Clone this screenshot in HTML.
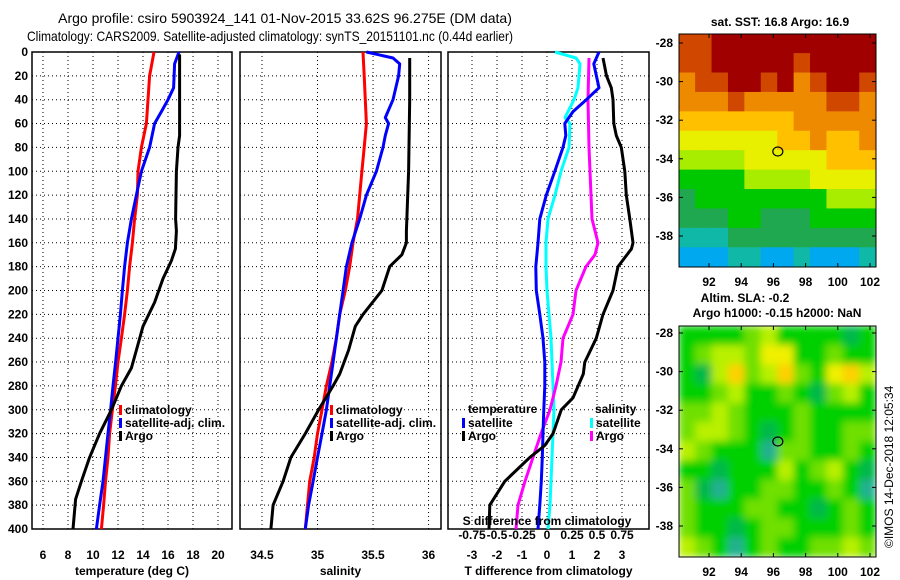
<!DOCTYPE html>
<html><head><meta charset="utf-8"><style>
body{margin:0;background:#fff}
svg{display:block;font-family:"Liberation Sans",sans-serif}
.t{font-size:12px;font-weight:bold;fill:#000}
.h{font-size:14px;fill:#000}
</style></head><body>
<svg id="c" width="900" height="580" viewBox="0 0 900 580">
<text class="h" x="285" y="23" text-anchor="middle">Argo profile: csiro 5903924_141 01-Nov-2015 33.62S 96.275E (DM data)</text>
<text class="h" x="27" y="41" textLength="486" lengthAdjust="spacingAndGlyphs">Climatology: CARS2009. Satellite-adjusted climatology: synTS_20151101.nc (0.44d earlier)</text>
<text class="t" x="780" y="26" text-anchor="middle">sat. SST: 16.8 Argo: 16.9</text>
<text class="t" x="745" y="302" text-anchor="middle">Altim. SLA: -0.2</text>
<text class="t" x="777" y="317" text-anchor="middle">Argo h1000: -0.15 h2000: NaN</text>
<text x="893" y="548" font-size="12" transform="rotate(-90 893 548)">©IMOS 14-Dec-2018 12:05:34</text>
</svg>
<script>
// depth levels
const depthTicks=[0,20,40,60,80,100,120,140,160,180,200,220,240,260,280,300,320,340,360,380,400];
// temperature
const tClimD=[0,20,40,60,80,100,120,140,160,180,200,220,240,260,280,300,320,340,360,380,400];
const tClim=[14.88,14.53,14.4,14.27,13.87,13.6,13.55,13.33,13.15,12.93,12.75,12.53,12.27,12.0,11.79,11.55,11.33,11.2,11.0,10.85,10.67];
const tSatD=[0,10,30,40,50,60,80,100,120,140,160,180,200,220,240,260,280,300,320,340,360,380,400];
const tSat=[16.88,16.53,16.45,16.0,15.47,14.93,14.53,13.87,13.47,13.07,12.75,12.53,12.35,12.19,12.0,11.81,11.6,11.41,11.2,11.0,10.8,10.53,10.27];
const tArgoD=[2,20,70,80,100,140,150,165,175,190,210,230,250,265,280,300,320,340,360,375,400];
const tArgo=[16.93,16.93,16.93,16.8,16.67,16.61,16.67,16.59,16.27,15.6,14.93,14.0,13.47,13.07,12.27,11.47,10.53,9.73,9.07,8.61,8.4];
const tTicks=[6,8,10,12,14,16,18,20];
// salinity
const sClimD=[0,20,40,60,80,100,120,140,160,180,200,220,240,260,280,300,320,340,360,380,400];
const sClim=[35.41,35.42,35.43,35.44,35.42,35.40,35.38,35.36,35.32,35.29,35.25,35.20,35.17,35.13,35.08,35.04,35.0,34.97,34.93,34.91,34.89];
const sSatD=[0,5,10,20,40,55,60,70,80,100,120,140,160,180,200,220,240,260,280,300,320,340,360,380,400];
const sSat=[35.44,35.68,35.74,35.73,35.68,35.61,35.64,35.61,35.59,35.53,35.44,35.38,35.31,35.26,35.23,35.2,35.17,35.14,35.11,35.08,35.04,35.0,34.96,34.92,34.89];
const sArgoD=[5,40,100,150,160,170,180,200,220,230,250,270,280,300,320,340,360,380,400];
const sArgo=[35.83,35.83,35.82,35.80,35.80,35.76,35.65,35.58,35.41,35.34,35.28,35.20,35.14,35.01,34.89,34.76,34.69,34.60,34.58];
const sTicks=[34.5,35,35.5,36];
// differences
const dTSatD=[0,10,30,40,50,60,70,80,100,120,140,160,180,200,220,240,260,280,300,320,340,360,380,400];
const dTSat=[2.08,1.87,2.08,1.57,1.04,0.71,0.75,0.64,0.31,-0.03,-0.29,-0.36,-0.45,-0.43,-0.29,-0.16,-0.09,-0.09,-0.13,-0.16,-0.19,-0.23,-0.29,-0.36];
const dSSatD=[0,5,10,30,40,55,60,80,100,120,140,160,180,200,220,240,260,280,300,320,340,360,380,400];
const dSSat=[0.08,0.29,0.33,0.31,0.27,0.18,0.23,0.22,0.14,0.08,0.01,-0.01,-0.01,0,0.02,0.04,0.05,0.06,0.07,0.06,0.05,0.04,0.03,0.01];
const dSArgoD=[5,40,80,120,140,160,170,180,200,220,240,260,280,300,320,340,360,380,400];
const dSArgo=[0.42,0.41,0.42,0.44,0.45,0.51,0.48,0.39,0.29,0.26,0.16,0.14,0.09,0.03,-0.06,-0.14,-0.22,-0.29,-0.31];
const dTArgoD=[5,20,30,40,60,70,80,100,120,140,160,165,180,200,220,240,260,270,290,300,320,330,340,360,380,400];
const dTArgo=[2.24,2.38,2.57,2.64,2.67,2.77,2.97,3.11,3.17,3.31,3.44,3.38,2.84,2.64,2.24,1.97,1.51,1.45,1.04,0.57,0.24,-0.09,-0.69,-1.69,-2.29,-2.32];
const dTTicks=[-3,-2,-1,0,1,2,3];
const dSTickLabels=["-0.75","-0.5","-0.25","0","0.25","0.5","0.75"];
const dSTicks=[-0.75,-0.5,-0.25,0,0.25,0.5,0.75];
// maps (colour level grids, rows north->south)
const sstGrid=[
[1,1,0,0,0,0,0,0,0,0,0,0],[1,1,0,0,0,0,0,1,0,0,0,0],[2,1,1,0,0,1,0,2,1,0,0,1],
[2,2,2,1,2,2,2,2,2,1,1,2],[3,3,3,3,3,3,3,2,2,2,2,2],[4,4,4,4,4,4,3,3,2,3,3,2],
[5,5,5,5,4,4,4,4,4,3,3,3],[6,6,6,6,5,5,5,5,4,4,4,4],[7,6,6,6,6,6,6,6,6,5,5,5],
[7,7,7,6,6,7,7,7,6,6,6,6],[8,8,8,7,7,7,7,7,7,7,7,7],[9,9,9,8,8,9,9,8,9,9,9,8]];
const slaGrid=[
[2,2,2,2,3,4,2,2,2,2,1,2],[2,3,4,4,3,5,5,2,2,3,2,2],[2,1,4,6,3,4,6,3,2,5,6,4],
[2,2,3,4,2,2,3,2,1,3,4,2],[3,3,4,3,2,2,2,3,2,2,2,2],[3,4,4,3,2,1,2,3,2,2,3,3],
[4,3,2,2,2,0,3,3,2,2,3,2],[2,2,1,2,2,2,4,2,3,4,2,1],[3,1,0,2,2,3,3,2,2,3,2,0],
[3,2,2,2,3,3,2,2,1,2,3,2],[3,2,2,1,2,3,3,2,2,2,3,2],[4,3,2,0,2,3,2,2,3,3,4,3]];
const lonTicks=[92,94,96,98,100,102];
const latTicks=[-28,-30,-32,-34,-36,-38];

const NS='http://www.w3.org/2000/svg', svg=document.getElementById('c');
function mk(tag,attrs,parent){const e=document.createElementNS(NS,tag);for(const k in attrs)e.setAttribute(k,attrs[k]);(parent||svg).appendChild(e);return e;}
const Y0=52,Y1=529;
const yS=d=>Y0+d*(Y1-Y0)/400;

function panel(name,x0,x1,dom,ticks,labels,xtitle,leftLabels){
  const xs=v=>x0+(v-dom[0])*(x1-x0)/(dom[1]-dom[0]);
  const g=mk('g',{});
  
  
  depthTicks.forEach(d=>{
    const l=mk('line',{x1:x0,x2:x1,y1:yS(d),y2:yS(d),stroke:'#000','stroke-width':1,'stroke-dasharray':'1,3'},g);
    
    
    if(leftLabels){const t=mk('text',{x:28,y:yS(d)+4,'text-anchor':'end',class:'t'},g);t.textContent=d;
      
      }
  });
  ticks.forEach((v,i)=>{
    const l=mk('line',{x1:xs(v),x2:xs(v),y1:Y0,y2:Y1,stroke:'#000','stroke-width':1,'stroke-dasharray':'1,3'},g);
    
    
    const t=mk('text',{x:xs(v),y:559,'text-anchor':'middle',class:'t'},g);t.textContent=labels[i];
    
    
  });
  const r=mk('rect',{x:x0,y:Y0,width:x1-x0,height:Y1-Y0,fill:'none',stroke:'#000','stroke-width':1.5},g);
  
  
  const tt=mk('text',{x:(x0+x1)/2,y:575,'text-anchor':'middle',class:'t'},g);tt.textContent=xtitle;
  
  
  return {g,xs};
}
function series(p,ds,vs,color,name,scale){
  const pts=ds.map((d,i)=>p.xs(vs[i]*(scale||1)).toFixed(1)+','+yS(d).toFixed(1)).join(' ');
  const l=mk('polyline',{points:pts,fill:'none',stroke:color,'stroke-width':3,'stroke-linejoin':'round'},p.g);
  
  
}
function legend(items,x,y0){
  items.forEach((it,i)=>{
    const y=y0+i*13;
    const r=mk('rect',{x:x,y:y-9,width:3,height:10,fill:it[1]});
    
    
    const t=mk('text',{x:x+6,y:y,class:'t'});t.textContent=it[0];
    
    
  });
}
const p1=panel('temperature',32,232,[5.12,21.12],tTicks,tTicks,'temperature (deg C)',true);
series(p1,tClimD,tClim,'#f00','temp-climatology-line');
series(p1,tSatD,tSat,'#00f','temp-satellite-line');
series(p1,tArgoD,tArgo,'#000','temp-argo-line');
legend([['climatology','#f00'],['satellite-adj. clim.','#00f'],['Argo','#000']],119,414);

const p2=panel('salinity',240,441,[34.302,36.112],sTicks,sTicks,'salinity',false);
series(p2,sClimD,sClim,'#f00','sal-climatology-line');
series(p2,sSatD,sSat,'#00f','sal-satellite-line');
series(p2,sArgoD,sArgo,'#000','sal-argo-line');
legend([['climatology','#f00'],['satellite-adj. clim.','#00f'],['Argo','#000']],330,414);

const p3=panel('difference',448,649,[-3.96,4.08],dTTicks,dTTicks,'T difference from climatology',false);
series(p3,dSSatD,dSSat,'#0ff','sdiff-satellite-line',4);
series(p3,dSArgoD,dSArgo,'#f0f','sdiff-argo-line',4);
series(p3,dTSatD,dTSat,'#00f','tdiff-satellite-line');
series(p3,dTArgoD,dTArgo,'#000','tdiff-argo-line');
{const t=mk('text',{x:468,y:413,class:'t'});t.textContent='temperature';


const s=mk('text',{x:595,y:413,class:'t'});s.textContent='salinity';

}
legend([['satellite','#00f'],['Argo','#000']],462,427);
legend([['satellite','#0ff'],['Argo','#f0f']],590,427);
{const t=mk('text',{x:547,y:525,'text-anchor':'middle',class:'t'});t.textContent='S difference from climatology';


dSTicks.forEach((v,i)=>{const l=mk('text',{x:p3.xs(v*4),y:539,'text-anchor':'middle',class:'t'});l.textContent=dSTickLabels[i];

});}

// maps
const sstCols=['#a00000','#d04800','#ee8a00','#ffc000','#e8f000','#a8ec00','#00c800','#20a850','#10b8a8','#00a8f0'];
const slaCols=['#20b090','#00b848','#00d000','#70e000','#b8f000','#f0f000','#ffd000'];
let fid=0;
function map(name,x0,x1,y0,y1,latTick0,grid,cols,blur,labY){
  const g=mk('g',{});
  
  
  const cp=mk('clipPath',{id:'cp'+fid},g);mk('rect',{x:x0,y:y0,width:x1-x0,height:y1-y0},cp);
  const inner=mk('g',{'clip-path':'url(#cp'+fid+')'},g);
  let tgt=inner;
  if(blur){const f=mk('filter',{id:'bf'+fid,x:'-10%',y:'-10%',width:'120%',height:'120%'},g);mk('feGaussianBlur',{stdDeviation:blur},f);tgt=mk('g',{filter:'url(#bf'+fid+')'},inner);}
  const R=grid.length,C=grid[0].length,cw=(x1-x0)/C,ch=(y1-y0)/R;
  grid.forEach((row,r)=>row.forEach((v,c)=>{
    const e=mk('rect',{x:x0+c*cw-0.3,y:y0+r*ch-0.3,width:cw+0.6,height:ch+0.6,fill:cols[v]},tgt);
    
    
  }));
  fid++;
  const lonS=v=>709+(v-92)*16.1;
  const latS=v=>latTick0+(-28-v)*19.3;
  lonTicks.forEach(v=>{const t=mk('text',{x:lonS(v),y:labY,'text-anchor':'middle',class:'t'},g);t.textContent=v;
    
    
    mk('line',{x1:lonS(v),x2:lonS(v),y1:y1,y2:y1-4,stroke:'#000'},g);
    mk('line',{x1:lonS(v),x2:lonS(v),y1:y0,y2:y0+4,stroke:'#000'},g);});
  latTicks.forEach(v=>{const t=mk('text',{x:673,y:latS(v)+4,'text-anchor':'end',class:'t'},g);t.textContent=v;
    
    
    mk('line',{x1:x0,x2:x0+4,y1:latS(v),y2:latS(v),stroke:'#000'},g);
    mk('line',{x1:x1,x2:x1-4,y1:latS(v),y2:latS(v),stroke:'#000'},g);});
  const fr=mk('rect',{x:x0,y:y0,width:x1-x0,height:y1-y0,fill:'none',stroke:'#000','stroke-width':1},g);
  
  
  const m=mk('ellipse',{cx:lonS(96.275),cy:latS(-33.62),rx:5,ry:4.5,fill:'none',stroke:'#000','stroke-width':1.2},g);
  
  
}
map('sst-map',679,876,34,267,43,sstGrid,sstCols,0,286);
map('sla-map',679,876,326,557,333,slaGrid,slaCols,4,576);
</script>
</body></html>
